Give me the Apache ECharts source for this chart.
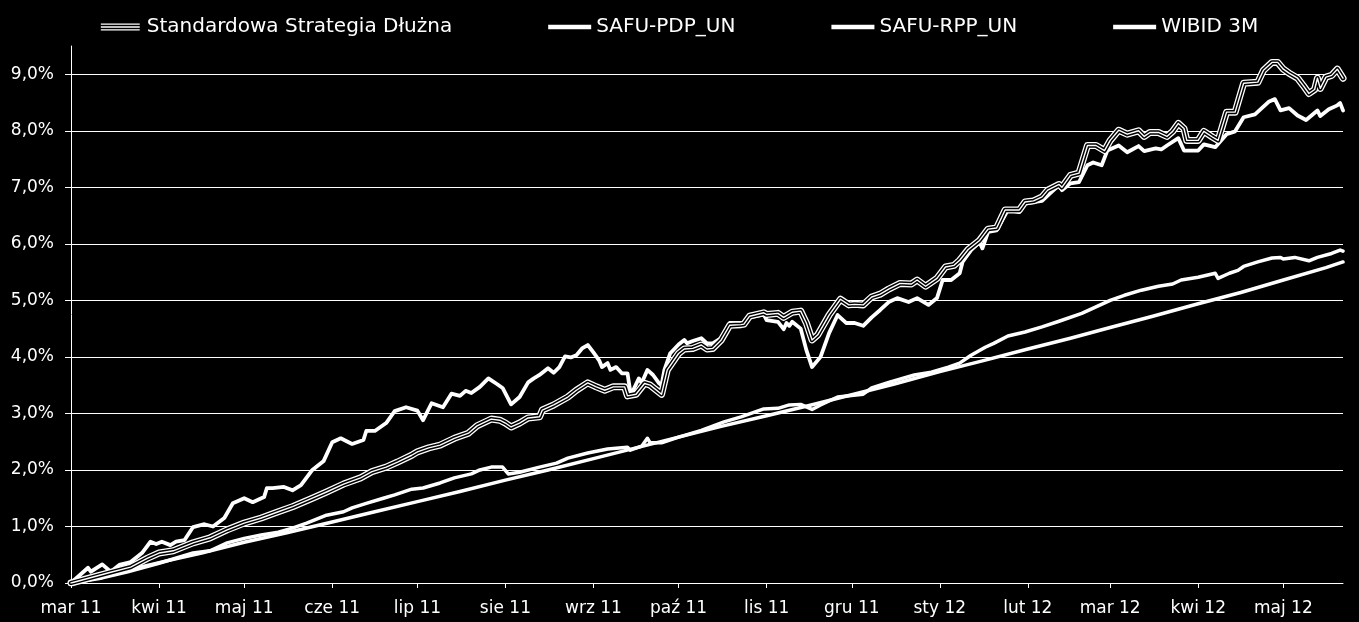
<!DOCTYPE html>
<html>
<head>
<meta charset="utf-8">
<script src="https://cdn.jsdelivr.net/npm/echarts@6/dist/echarts.min.js"></script>
<style>
html,body{margin:0;padding:0;background:#000;}
#c{width:1359px;height:622px;}
</style>
</head>
<body>
<div id="c"></div>
<script>
// ---- axis data ----
const monthTicks = ['2011-03-01','2011-04-01','2011-05-01','2011-06-01','2011-07-01','2011-08-01','2011-09-01','2011-10-01','2011-11-01','2011-12-01','2012-01-01','2012-02-01','2012-03-01','2012-04-01','2012-05-01'];
const tickLabels = ['mar 11','kwi 11','maj 11','cze 11','lip 11','sie 11','wrz 11','paź 11','lis 11','gru 11','sty 12','lut 12','mar 12','kwi 12','maj 12'];
const yTicks = [0,1,2,3,4,5,6,7,8,9];
const xStart = '2011-03-01';
const xEnd = '2012-05-22';
const seriesNames = ['Standardowa Strategia Dłużna','SAFU-PDP_UN','SAFU-RPP_UN','WIBID 3M'];

// ---- Standardowa Strategia Dłużna ----
const ssdDates = ['2011-03-01','2011-03-15','2011-03-22','2011-03-28','2011-04-01','2011-04-06','2011-04-13','2011-04-19','2011-04-25','2011-05-01','2011-05-07','2011-05-13','2011-05-18','2011-05-25','2011-05-30','2011-06-05','2011-06-11','2011-06-15','2011-06-20','2011-06-24','2011-06-29','2011-07-01','2011-07-05','2011-07-09','2011-07-14','2011-07-19','2011-07-22','2011-07-27','2011-07-30','2011-08-01','2011-08-03','2011-08-06','2011-08-09','2011-08-13','2011-08-14','2011-08-18','2011-08-23','2011-08-26','2011-08-30','2011-09-02','2011-09-05','2011-09-08','2011-09-12','2011-09-13','2011-09-16','2011-09-19','2011-09-21','2011-09-25','2011-09-27','2011-10-01','2011-10-03','2011-10-06','2011-10-09','2011-10-11','2011-10-13','2011-10-16','2011-10-19','2011-10-23','2011-10-24','2011-10-26','2011-10-31','2011-11-01','2011-11-05','2011-11-07','2011-11-10','2011-11-13','2011-11-15','2011-11-17','2011-11-19','2011-11-23','2011-11-27','2011-11-30','2011-12-02','2011-12-05','2011-12-08','2011-12-11','2011-12-14','2011-12-18','2011-12-22','2011-12-24','2011-12-27','2011-12-31','2012-01-03','2012-01-06','2012-01-08','2012-01-11','2012-01-15','2012-01-18','2012-01-21','2012-01-24','2012-01-29','2012-01-31','2012-02-03','2012-02-06','2012-02-08','2012-02-12','2012-02-13','2012-02-16','2012-02-19','2012-02-22','2012-02-25','2012-02-28','2012-03-01','2012-03-04','2012-03-07','2012-03-11','2012-03-13','2012-03-15','2012-03-18','2012-03-21','2012-03-23','2012-03-25','2012-03-27','2012-03-28','2012-04-01','2012-04-03','2012-04-06','2012-04-08','2012-04-11','2012-04-14','2012-04-17','2012-04-22','2012-04-24','2012-04-27','2012-04-29','2012-05-01','2012-05-03','2012-05-06','2012-05-08','2012-05-10','2012-05-12','2012-05-13','2012-05-14','2012-05-16','2012-05-18','2012-05-20','2012-05-22'];
const ssdValues = [0,0.19,0.28,0.44,0.53,0.57,0.71,0.8,0.94,1.06,1.15,1.26,1.35,1.5,1.61,1.75,1.86,1.97,2.05,2.14,2.26,2.32,2.39,2.44,2.56,2.65,2.78,2.9,2.88,2.83,2.76,2.83,2.92,2.94,3.06,3.15,3.29,3.41,3.54,3.47,3.41,3.47,3.47,3.31,3.34,3.53,3.5,3.34,3.77,4.06,4.14,4.15,4.21,4.14,4.15,4.3,4.56,4.57,4.58,4.72,4.78,4.75,4.77,4.7,4.79,4.81,4.6,4.3,4.39,4.74,5.02,4.92,4.93,4.92,5.06,5.11,5.2,5.3,5.29,5.36,5.25,5.39,5.59,5.62,5.71,5.9,6.06,6.26,6.28,6.6,6.6,6.74,6.76,6.83,6.95,7.05,7.0,7.21,7.25,7.74,7.74,7.65,7.83,8.01,7.94,8.0,7.9,7.97,7.97,7.9,7.99,8.13,8.04,7.83,7.83,7.99,7.89,7.83,8.33,8.33,8.84,8.86,9.07,9.21,9.21,9.09,9.02,8.93,8.8,8.66,8.73,8.93,8.75,8.95,8.98,9.09,8.93];

// ---- SAFU-PDP_UN ----
const pdpDates = ['2011-03-01','2011-03-07','2011-03-08','2011-03-12','2011-03-15','2011-03-18','2011-03-22','2011-03-26','2011-03-29','2011-03-31','2011-04-02','2011-04-05','2011-04-07','2011-04-10','2011-04-13','2011-04-17','2011-04-20','2011-04-24','2011-04-27','2011-05-01','2011-05-04','2011-05-08','2011-05-09','2011-05-11','2011-05-15','2011-05-18','2011-05-21','2011-05-25','2011-05-29','2011-06-01','2011-06-04','2011-06-08','2011-06-12','2011-06-13','2011-06-16','2011-06-20','2011-06-23','2011-06-27','2011-07-01','2011-07-03','2011-07-06','2011-07-10','2011-07-13','2011-07-16','2011-07-18','2011-07-20','2011-07-23','2011-07-26','2011-07-29','2011-07-31','2011-08-03','2011-08-06','2011-08-09','2011-08-11','2011-08-13','2011-08-16','2011-08-18','2011-08-20','2011-08-22','2011-08-24','2011-08-26','2011-08-28','2011-08-30','2011-09-01','2011-09-03','2011-09-04','2011-09-06','2011-09-07','2011-09-09','2011-09-11','2011-09-13','2011-09-14','2011-09-15','2011-09-17','2011-09-18','2011-09-20','2011-09-22','2011-09-24','2011-09-25','2011-09-26','2011-09-28','2011-10-01','2011-10-03','2011-10-04','2011-10-06','2011-10-09','2011-10-11','2011-10-13','2011-10-16','2011-10-18','2011-10-19','2011-10-23','2011-10-24','2011-10-26','2011-10-31','2011-11-01','2011-11-05','2011-11-07','2011-11-08','2011-11-09','2011-11-10','2011-11-13','2011-11-15','2011-11-17','2011-11-20','2011-11-23','2011-11-26','2011-11-29','2011-12-02','2011-12-05','2011-12-08','2011-12-11','2011-12-14','2011-12-17','2011-12-21','2011-12-24','2011-12-28','2011-12-31','2012-01-02','2012-01-05','2012-01-08','2012-01-09','2012-01-12','2012-01-15','2012-01-16','2012-01-18','2012-01-21','2012-01-25','2012-01-29','2012-01-31','2012-02-03','2012-02-06','2012-02-09','2012-02-12','2012-02-13','2012-02-16','2012-02-19','2012-02-22','2012-02-24','2012-02-27','2012-02-29','2012-03-04','2012-03-07','2012-03-11','2012-03-13','2012-03-17','2012-03-19','2012-03-21','2012-03-25','2012-03-27','2012-04-01','2012-04-03','2012-04-07','2012-04-11','2012-04-14','2012-04-17','2012-04-21','2012-04-26','2012-04-28','2012-04-30','2012-05-03','2012-05-06','2012-05-09','2012-05-13','2012-05-14','2012-05-17','2012-05-20','2012-05-21','2012-05-22'];
const pdpValues = [0,0.27,0.2,0.33,0.2,0.32,0.37,0.53,0.73,0.69,0.73,0.67,0.73,0.76,0.99,1.04,1.0,1.15,1.41,1.5,1.43,1.52,1.68,1.68,1.7,1.64,1.73,2.0,2.16,2.49,2.56,2.46,2.53,2.69,2.69,2.83,3.04,3.11,3.05,2.88,3.18,3.11,3.35,3.31,3.4,3.36,3.47,3.62,3.52,3.45,3.16,3.29,3.55,3.62,3.68,3.8,3.72,3.82,4.01,3.99,4.03,4.15,4.21,4.08,3.94,3.82,3.89,3.77,3.82,3.71,3.71,3.38,3.41,3.62,3.54,3.77,3.68,3.54,3.5,3.77,4.06,4.22,4.3,4.24,4.28,4.33,4.24,4.24,4.33,4.49,4.6,4.6,4.56,4.7,4.75,4.65,4.62,4.49,4.6,4.55,4.62,4.5,4.12,3.82,4.0,4.42,4.74,4.6,4.6,4.55,4.7,4.83,4.97,5.04,4.97,5.04,4.92,5.04,5.36,5.36,5.48,5.68,5.89,6.03,5.92,6.21,6.24,6.6,6.56,6.71,6.74,6.76,6.9,7.04,6.95,7.07,7.09,7.39,7.44,7.39,7.65,7.74,7.62,7.73,7.64,7.69,7.67,7.74,7.87,7.65,7.65,7.76,7.71,7.94,7.99,8.24,8.29,8.52,8.56,8.36,8.4,8.27,8.19,8.36,8.26,8.38,8.45,8.49,8.36];

// ---- SAFU-RPP_UN ----
const rppDates = ['2011-03-01','2011-03-12','2011-03-21','2011-04-01','2011-04-13','2011-04-19','2011-04-25','2011-05-01','2011-05-07','2011-05-13','2011-05-18','2011-05-23','2011-05-30','2011-06-05','2011-06-08','2011-06-13','2011-06-19','2011-06-23','2011-06-29','2011-07-03','2011-07-09','2011-07-14','2011-07-20','2011-07-23','2011-07-27','2011-07-31','2011-08-02','2011-08-06','2011-08-13','2011-08-19','2011-08-23','2011-08-30','2011-09-06','2011-09-13','2011-09-14','2011-09-18','2011-09-20','2011-09-21','2011-09-25','2011-10-01','2011-10-09','2011-10-17','2011-10-23','2011-10-31','2011-11-05','2011-11-09','2011-11-13','2011-11-17','2011-11-20','2011-11-26','2011-12-05','2011-12-08','2011-12-14','2011-12-23','2011-12-29','2012-01-04','2012-01-08','2012-01-12','2012-01-17','2012-01-20','2012-01-25','2012-01-31','2012-02-06','2012-02-12','2012-02-20','2012-03-01','2012-03-06','2012-03-12','2012-03-18','2012-03-23','2012-03-26','2012-04-01','2012-04-07','2012-04-08','2012-04-12','2012-04-15','2012-04-17','2012-04-22','2012-04-27','2012-04-30','2012-05-01','2012-05-05','2012-05-10','2012-05-13','2012-05-18','2012-05-21','2012-05-22'];
const rppValues = [0,0.09,0.2,0.35,0.53,0.57,0.71,0.79,0.85,0.9,0.97,1.06,1.2,1.26,1.33,1.41,1.5,1.56,1.66,1.68,1.77,1.86,1.93,2.0,2.05,2.05,1.93,1.96,2.05,2.12,2.21,2.3,2.37,2.4,2.35,2.42,2.56,2.48,2.48,2.58,2.7,2.85,2.94,3.08,3.09,3.15,3.16,3.07,3.15,3.29,3.34,3.45,3.55,3.68,3.73,3.82,3.89,4.03,4.17,4.24,4.37,4.44,4.53,4.63,4.77,5.0,5.09,5.18,5.25,5.29,5.36,5.41,5.48,5.39,5.48,5.53,5.6,5.68,5.75,5.76,5.73,5.76,5.7,5.76,5.83,5.89,5.87];

// ---- WIBID 3M ----
const wibidDates = ['2011-03-01','2011-03-16','2011-04-01','2011-04-16','2011-05-01','2011-05-16','2011-06-01','2011-06-16','2011-07-01','2011-07-16','2011-08-01','2011-08-16','2011-09-01','2011-09-16','2011-10-01','2011-10-16','2011-11-01','2011-11-16','2011-12-01','2011-12-16','2012-01-01','2012-01-16','2012-02-01','2012-02-16','2012-03-01','2012-03-16','2012-04-01','2012-04-16','2012-05-01','2012-05-16','2012-05-22'];
const wibidValues = [0,0.17,0.36,0.53,0.72,0.89,1.08,1.26,1.44,1.62,1.82,2.0,2.2,2.39,2.58,2.77,2.96,3.14,3.33,3.52,3.74,3.93,4.14,4.33,4.52,4.72,4.94,5.14,5.36,5.58,5.68];

function ts(s) { const p = s.split('-'); return Date.UTC(+p[0], +p[1] - 1, +p[2]); }
function pairs(d, v) { return d.map((x, i) => [ts(x), v[i]]); }
const monthTs = monthTicks.map(ts);

const FONT = 'DejaVu Sans';
const chart = echarts.init(document.getElementById('c'));

function lineSeries(name, data, color, width, z) {
  return {
    name: name, type: 'line', data: data, showSymbol: false, symbol: 'none',
    animation: false, z: z, color: color,
    lineStyle: { color: color, width: width, cap: 'round', join: 'round' },
    emphasis: { disabled: true }
  };
}

const ssd = pairs(ssdDates, ssdValues);

chart.setOption({
  backgroundColor: '#000',
  animation: false,
  grid: { left: 71, right: 16, top: 46, bottom: 39, containLabel: false },
  legend: {
    top: 12,
    left: 'center',
    itemWidth: 43,
    itemHeight: 7,
    itemGap: 96,
    selectedMode: false,
    itemStyle: { borderWidth: 0 },
    textStyle: { color: '#fff', fontSize: 20, fontFamily: FONT },
    data: [
      { name: seriesNames[0], icon: 'path://M0,0H40V1.4H0Z M0,2.9H40V4.3H0Z M0,5.8H40V7.2H0Z' },
      { name: seriesNames[1], icon: 'path://M0,0H40V4H0Z' },
      { name: seriesNames[2], icon: 'path://M0,0H40V4H0Z' },
      { name: seriesNames[3], icon: 'path://M0,0H40V4H0Z' }
    ]
  },
  xAxis: {
    type: 'value',
    min: ts(xStart),
    max: ts(xEnd),
    axisLine: { show: true, lineStyle: { color: '#fff', width: 1 } },
    axisTick: { show: true, length: 5, lineStyle: { color: '#fff' }, customValues: monthTs },
    splitLine: { show: false },
    axisLabel: {
      customValues: monthTs,
      color: '#fff', fontSize: 17, fontFamily: FONT, margin: 17,
      formatter: function (v) {
        for (let i = 0; i < monthTs.length; i++) {
          if (Math.abs(monthTs[i] - v) < 43200000) return tickLabels[i];
        }
        return '';
      }
    }
  },
  yAxis: {
    type: 'value',
    min: 0,
    max: 9.5,
    interval: 1,
    axisLine: { show: true, lineStyle: { color: '#fff', width: 1 } },
    axisTick: { show: true, length: 6, lineStyle: { color: '#fff' }, customValues: yTicks },
    splitLine: {
      show: true,
      lineStyle: { color: ['#fff','#fff','#fff','#fff','#fff','#fff','#fff','#fff','#fff','#fff','rgba(0,0,0,0)'], width: 1 }
    },
    axisLabel: {
      customValues: yTicks,
      color: '#fff', fontSize: 17, fontFamily: FONT, margin: 17,
      formatter: function (v) { return v.toFixed(1).replace('.', ',') + '%'; }
    }
  },
  series: [
    lineSeries(seriesNames[3], pairs(wibidDates, wibidValues), '#fff', 3.5, 2),
    lineSeries(seriesNames[2], pairs(rppDates, rppValues), '#fff', 3.5, 3),
    lineSeries(seriesNames[1], pairs(pdpDates, pdpValues), '#fff', 3.8, 4),
    lineSeries(seriesNames[0], ssd, '#fff', 7, 5),
    lineSeries('ssd-gap', ssd, '#000', 4.4, 6),
    lineSeries('ssd-core', ssd, '#fff', 1.4, 7)
  ]
});
</script>
</body>
</html>
